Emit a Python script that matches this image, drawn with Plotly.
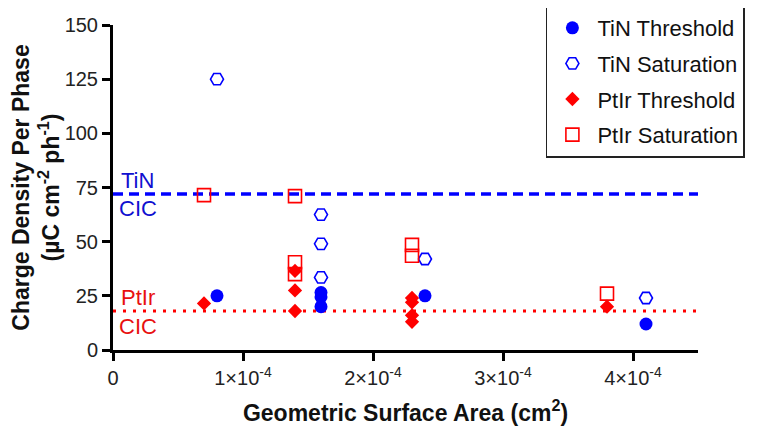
import plotly.graph_objects as go

# ---- data ----
tin_thr_x = [0.8e-4, 1.6e-4, 1.6e-4, 1.6e-4, 2.4e-4, 4.1e-4]
tin_thr_y = [25, 26.5, 24.5, 20, 25, 12]

tin_sat_x = [0.8e-4, 1.6e-4, 1.6e-4, 1.6e-4, 2.4e-4, 4.1e-4]
tin_sat_y = [125, 62.5, 49, 33.5, 42, 24]

ptir_thr_x = [0.7e-4, 1.4e-4, 1.4e-4, 1.4e-4, 2.3e-4, 2.3e-4, 2.3e-4, 2.3e-4, 3.8e-4]
ptir_thr_y = [21.5, 36.5, 27.5, 18, 24, 22, 16, 13, 20]

ptir_sat_x = [0.7e-4, 1.4e-4, 1.4e-4, 1.4e-4, 2.3e-4, 2.3e-4, 3.8e-4]
ptir_sat_y = [71.5, 71, 40.5, 35, 48.5, 43.5, 26]

tin_cic = 72
ptir_cic = 18

x_tickvals = [0, 1e-4, 2e-4, 3e-4, 4e-4]
x_ticktext = ["0", "1×10<sup>-4</sup>", "2×10<sup>-4</sup>", "3×10<sup>-4</sup>", "4×10<sup>-4</sup>"]
y_tickvals = [0, 25, 50, 75, 100, 125, 150]

BLUE = "#0000ff"
RED = "#ff0000"
FONT = "Liberation Sans, Arial, sans-serif"

fig = go.Figure()

x_range = [0, 4.5e-4]
fig.add_trace(go.Scatter(x=x_range, y=[tin_cic, tin_cic], mode="lines",
                         line=dict(color=BLUE, width=3.5, dash="10px,6px"),
                         showlegend=False, hoverinfo="skip"))
fig.add_trace(go.Scatter(x=x_range, y=[ptir_cic, ptir_cic], mode="lines",
                         line=dict(color=RED, width=3, dash="3px,7px"),
                         showlegend=False, hoverinfo="skip"))

fig.add_trace(go.Scatter(x=tin_thr_x, y=tin_thr_y, mode="markers", name="TiN Threshold",
                         legendgroup="a",
                         marker=dict(symbol="circle", size=13, color=BLUE)))
fig.add_trace(go.Scatter(x=tin_sat_x, y=tin_sat_y, mode="markers", name="TiN Saturation",
                         legendgroup="b",
                         marker=dict(symbol="hexagon2-open", size=13, color=BLUE,
                                     line=dict(width=1.6, color=BLUE))))
fig.add_trace(go.Scatter(x=ptir_thr_x, y=ptir_thr_y, mode="markers", name="PtIr Threshold",
                         legendgroup="c",
                         marker=dict(symbol="diamond", size=11, color=RED)))
fig.add_trace(go.Scatter(x=ptir_sat_x, y=ptir_sat_y, mode="markers", name="PtIr Saturation",
                         legendgroup="d",
                         marker=dict(symbol="square-open", size=13, color=RED,
                                     line=dict(width=1.6, color=RED))))

fig.add_annotation(x=0, y=tin_cic, xref="x", yref="y", text="TiN", showarrow=False,
                   xanchor="left", yanchor="middle", xshift=6, yshift=14,
                   font=dict(size=22, color="#1010d0", family=FONT))
fig.add_annotation(x=0, y=tin_cic, xref="x", yref="y", text="CIC", showarrow=False,
                   xanchor="left", yanchor="middle", xshift=4, yshift=-14,
                   font=dict(size=22, color="#1010d0", family=FONT))
fig.add_annotation(x=0, y=ptir_cic, xref="x", yref="y", text="PtIr", showarrow=False,
                   xanchor="left", yanchor="middle", xshift=6, yshift=14,
                   font=dict(size=22, color="#e81010", family=FONT))
fig.add_annotation(x=0, y=ptir_cic, xref="x", yref="y", text="CIC", showarrow=False,
                   xanchor="left", yanchor="middle", xshift=4, yshift=-15,
                   font=dict(size=22, color="#e81010", family=FONT))

# page body adds an 8px offset, so the figure is 8px smaller and shifted
fig.update_layout(
    width=750, height=422,
    margin=dict(l=105, r=60, t=17, b=80, autoexpand=False),
    paper_bgcolor="white", plot_bgcolor="white",
    font=dict(family=FONT, size=20, color="#222222"),
    legend=dict(x=0.74, y=1.06, xanchor="left", yanchor="top",
                bordercolor="#222222", borderwidth=1.5, bgcolor="white",
                font=dict(size=22, color="#111111"), tracegroupgap=4,
                itemwidth=40),
    xaxis=dict(range=x_range, tickvals=x_tickvals, ticktext=x_ticktext,
               showgrid=False, zeroline=False, showline=True, linecolor="black", linewidth=3,
               ticks="outside", ticklen=8, tickwidth=3, tickcolor="black",
               tickfont=dict(size=20), automargin=False,
               title=dict(text="<b>Geometric Surface Area (cm<sup>2</sup>)</b>",
                          font=dict(size=23, color="#111111"), standoff=17)),
    yaxis=dict(range=[0, 150], tickvals=y_tickvals,
               showgrid=False, zeroline=False, showline=True, linecolor="black", linewidth=3,
               ticks="outside", ticklen=8, tickwidth=3, tickcolor="black",
               tickfont=dict(size=20), automargin=False,
               title=dict(text="<b>Charge Density Per Phase<br>(µC cm<sup>-2</sup> ph<sup>-1</sup>)</b>",
                          font=dict(size=23, color="#111111"), standoff=6)),
)

fig.write_html("out.html")
